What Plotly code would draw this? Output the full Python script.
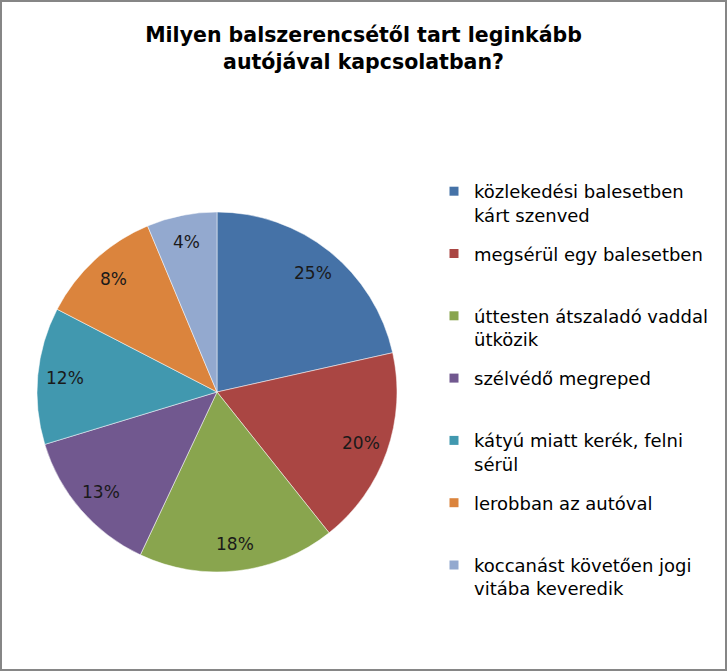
import numpy as np
import plotly.graph_objects as go

# ===============================
# DATA
# ===============================
TITLE = "Milyen balszerencsétől tart leginkább<br>autójával kapcsolatban?"

categories = [
    "közlekedési balesetben<br>kárt szenved",
    "megsérül egy balesetben<br> ",
    "úttesten átszaladó vaddal<br>ütközik",
    "szélvédő megreped<br> ",
    "kátyú miatt kerék, felni<br>sérül",
    "lerobban az autóval<br> ",
    "koccanást követően jogi<br>vitába keveredik",
]
# slice sizes as drawn in the picture
slice_sizes = [21.5, 17.8, 17.7, 13.3, 12.3, 11.1, 6.3]
# data labels printed on the slices
label_text = ["25%", "20%", "18%", "13%", "12%", "8%", "4%"]

colors = ["#4572A7", "#AA4643", "#89A54E", "#71588F", "#4198AF", "#DB843D", "#93A9CF"]

# ===============================
# GEOMETRY
# ===============================
W, H = 727, 671
CX, CY, R = 217, 392, 180  # pixel centre / radius of the pie
LABEL_R = 0.85
FONT = "DejaVu Sans"

dom_x = [(CX - R) / W, (CX + R) / W]
dom_y = [(H - CY - R) / H, (H - CY + R) / H]

fig = go.Figure()

fig.add_trace(go.Pie(
    labels=categories,
    values=slice_sizes,
    sort=False,
    direction="clockwise",
    rotation=0,
    marker=dict(colors=colors, line=dict(color="white", width=0.5)),
    textinfo="none",
    hoverinfo="label+text",
    text=label_text,
    domain=dict(x=dom_x, y=dom_y),
    showlegend=False,
))

# legend entries (one per category so the gap between them can be set)
for i, (cat, col) in enumerate(zip(categories, colors)):
    fig.add_trace(go.Scatter(
        x=[None], y=[None],
        mode="markers",
        marker=dict(symbol="square", size=9, color=col),
        name=cat,
        legendgroup=str(i),
        hoverinfo="skip",
    ))

# data labels placed at mid angle of each slice
total = sum(slice_sizes)
cum = np.cumsum([0] + slice_sizes)
annotations = []
for i, txt in enumerate(label_text):
    mid = (cum[i] + cum[i + 1]) / 2 / total * 2 * np.pi
    px = CX + LABEL_R * R * np.sin(mid)
    py = CY - LABEL_R * R * np.cos(mid)
    annotations.append(dict(
        x=px / W, y=1 - py / H, xref="paper", yref="paper",
        xanchor="center", yanchor="middle",
        text=txt, showarrow=False,
        font=dict(family=FONT, size=17, color="#1a1a1a"),
    ))

fig.update_layout(
    width=W, height=H,
    margin=dict(l=0, r=0, t=0, b=0),
    paper_bgcolor="white",
    plot_bgcolor="white",
    xaxis=dict(visible=False),
    yaxis=dict(visible=False),
    title=dict(
        text=TITLE, x=0.5, xanchor="center", y=1 - 42 / H, yanchor="middle",
        font=dict(family=FONT, size=20.5, color="black", weight="bold"),
    ),
    legend=dict(
        x=434 / W, y=1 - 173 / H, xanchor="left", yanchor="top",
        font=dict(family=FONT, size=18, color="black"),
        valign="top", itemwidth=30,
        traceorder="grouped", tracegroupgap=12.5,
        bgcolor="rgba(0,0,0,0)",
    ),
    annotations=annotations,
    shapes=[dict(
        type="rect", xref="paper", yref="paper", x0=0, y0=0, x1=1, y1=1,
        line=dict(color="#868686", width=4),
    )],
)

fig.write_html(
    "out.html",
    config={"displayModeBar": False},
    post_script="document.body.style.margin='0px';",
)
